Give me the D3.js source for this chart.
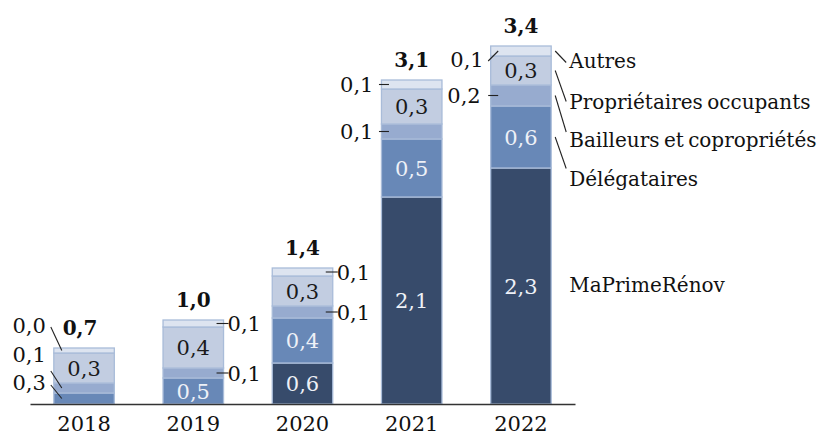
<!DOCTYPE html>
<html>
<head>
<meta charset="utf-8">
<script src="https://cdn.jsdelivr.net/npm/d3@7"></script>
<style>
  body { margin: 0; background: #fff; }
  svg { display: block; }
  text { font-family: "DejaVu Serif", "Liberation Serif", serif; }
</style>
</head>
<body>
<svg id="chart" width="829" height="437"></svg>
<script>
// years on the x axis
var years = ["2018", "2019", "2020", "2021", "2022"];

// segment heights, bottom to top (Md€)
var maPrimeRenov = [0, 0, 0.41, 2.07, 2.36];
var delegataires = [0.11, 0.26, 0.45, 0.58, 0.62];
var bailleurs = [0.10, 0.10, 0.12, 0.15, 0.21];
var proprietaires = [0.30, 0.41, 0.30, 0.35, 0.29];
var autres = [0.05, 0.07, 0.08, 0.09, 0.10];

// labels printed on the chart
var mprLabels = [null, null, "0,6", "2,1", "2,3"];
var delegLabels = ["0,3", "0,5", "0,4", "0,5", "0,6"];
var bailLabels = ["0,1", "0,1", "0,1", "0,1", "0,2"];
var propLabels = ["0,3", "0,4", "0,3", "0,3", "0,3"];
var autresLabels = ["0,0", "0,1", "0,1", "0,1", "0,1"];
var totalLabels = ["0,7", "1,0", "1,4", "3,1", "3,4"];

var seriesNames = ["MaPrimeRénov", "Délégataires", "Bailleurs et copropriétés",
                   "Propriétaires occupants", "Autres"];

var svg = d3.select("#chart");
var colors = ["#374b6b", "#6888b7", "#97abcf", "#c2cde1", "#dde4f0"];
var fs = 21;

var x = d3.scaleBand().domain(years).range([30, 575]).paddingInner(0.446).paddingOuter(0.218);
var y = d3.scaleLinear().domain([0, 3.6]).range([404, 44]);

// build stacked table
var rows = years.map(function (yr, i) {
    return { year: yr, mpr: maPrimeRenov[i], deleg: delegataires[i], bail: bailleurs[i],
             prop: proprietaires[i], autres: autres[i] };
});
var keys = ["mpr", "deleg", "bail", "prop", "autres"];
var labels = { mpr: mprLabels, deleg: delegLabels, bail: bailLabels, prop: propLabels, autres: autresLabels };
var stacked = d3.stack().keys(keys)(rows);

// bars
svg.append("g").selectAll("g")
    .data(stacked)
    .join("g")
    .attr("fill", function (d, i) { return colors[i]; })
    .selectAll("rect")
    .data(function (d) { return d; })
    .join("rect")
    .attr("x", function (d) { return x(d.data.year); })
    .attr("y", function (d) { return y(d[1]); })
    .attr("width", x.bandwidth())
    .attr("height", function (d) { return y(d[0]) - y(d[1]); })
    .attr("stroke", "#a9bcd9")
    .attr("stroke-width", 1.3);

function mid(k, i) {
    var s = stacked[keys.indexOf(k)][i];
    return (y(s[0]) + y(s[1])) / 2;
}

// labels inside segments
var inside = [
    { k: "prop", idx: [0, 1, 2, 3, 4], fill: "#1a1a1a" },
    { k: "deleg", idx: [1, 2, 3, 4], fill: "#eef1f7" },
    { k: "mpr", idx: [2, 3, 4], fill: "#eef1f7" }
];
inside.forEach(function (s) {
    svg.append("g").selectAll("text")
        .data(s.idx)
        .join("text")
        .attr("x", function (i) { return x(years[i]) + x.bandwidth() / 2; })
        .attr("y", function (i) { return mid(s.k, i) + 7.5; })
        .attr("text-anchor", "middle")
        .attr("font-size", fs)
        .attr("fill", s.fill)
        .text(function (i) { return labels[s.k][i]; });
});

// totals
svg.append("g").selectAll("text")
    .data(years)
    .join("text")
    .attr("x", function (d, i) { return x(d) + x.bandwidth() / 2 - (i === 0 ? 4 : 0); })
    .attr("y", function (d, i) { return y(stacked[4][i][1]) - 13; })
    .attr("text-anchor", "middle")
    .attr("font-size", 20)
    .attr("font-weight", "bold")
    .attr("fill", "#111")
    .text(function (d, i) { return totalLabels[i]; });

var lineG = svg.append("g").attr("stroke", "#222").attr("stroke-width", 1.1);
var outG = svg.append("g").attr("font-size", fs).attr("fill", "#111");

// 2018: diagonal leaders on the left
var left18 = [{ k: "autres", ty: 333, sy: 327 }, { k: "bail", ty: 362, sy: 371 }, { k: "deleg", ty: 390, sy: 385 }];
left18.forEach(function (a) {
    var bl = x(years[0]);
    lineG.append("line").attr("x1", bl - 3).attr("y1", a.sy).attr("x2", bl + 8).attr("y2", mid(a.k, 0));
    outG.append("text").attr("x", bl - 8).attr("y", a.ty).attr("text-anchor", "end").text(labels[a.k][0]);
});

// 2019, 2020: ticks on the right
[1, 2].forEach(function (i) {
    var br = x(years[i]) + x.bandwidth();
    ["autres", "bail"].forEach(function (k) {
        var m = mid(k, i);
        lineG.append("line").attr("x1", br - 7).attr("y1", m).attr("x2", br + 5).attr("y2", m);
        outG.append("text").attr("x", br + 4).attr("y", m + 7.5).text(labels[k][i]);
    });
});

// 2021: ticks on the left
["autres", "bail"].forEach(function (k) {
    var bl = x(years[3]), m = mid(k, 3);
    lineG.append("line").attr("x1", bl - 2.5).attr("y1", m).attr("x2", bl + 7.5).attr("y2", m);
    outG.append("text").attr("x", bl - 8).attr("y", m + 7.5).attr("text-anchor", "end").text(labels[k][3]);
});

// 2022: left side
(function () {
    var bl = x(years[4]);
    var ma = mid("autres", 4);
    lineG.append("line").attr("x1", bl - 2.5).attr("y1", ma + 10).attr("x2", bl + 7.5).attr("y2", ma);
    outG.append("text").attr("x", bl - 7).attr("y", ma + 16).attr("text-anchor", "end").text(labels.autres[4]);
    var mb = mid("bail", 4);
    lineG.append("line").attr("x1", bl - 2.5).attr("y1", mb).attr("x2", bl + 7.5).attr("y2", mb);
    outG.append("text").attr("x", bl - 10).attr("y", mb + 7.5).attr("text-anchor", "end").text(labels.bail[4]);
})();

// series names to the right of the last bar
var legend = [
    { k: "autres", name: seriesNames[4], ty: 68, ey: 62.5 },
    { k: "prop", name: seriesNames[3], ty: 109, ey: 101.5 },
    { k: "bail", name: seriesNames[2], ty: 146.5, ey: 132 },
    { k: "deleg", name: seriesNames[1], ty: 185.5, ey: 168.5 },
    { k: "mpr", name: seriesNames[0], ty: 292, ey: null }
];
var br22 = x(years[4]) + x.bandwidth();
legend.forEach(function (l) {
    if (l.ey !== null) {
        lineG.append("line").attr("x1", br22 + 4).attr("y1", mid(l.k, 4)).attr("x2", br22 + 15).attr("y2", l.ey);
    }
    outG.append("text").attr("x", br22 + 18).attr("y", l.ty)
        .attr("font-size", 20).attr("word-spacing", -2).text(l.name);
});

// x axis
var axis = svg.append("g").attr("transform", "translate(0,404)")
    .call(d3.axisBottom(x).tickSize(0).tickPadding(12));
axis.select(".domain").attr("stroke", "#333").attr("stroke-width", 1.5);
axis.selectAll("text").attr("font-size", fs).attr("fill", "#111")
    .attr("font-family", "DejaVu Serif, Liberation Serif, serif");
</script>
</body>
</html>
